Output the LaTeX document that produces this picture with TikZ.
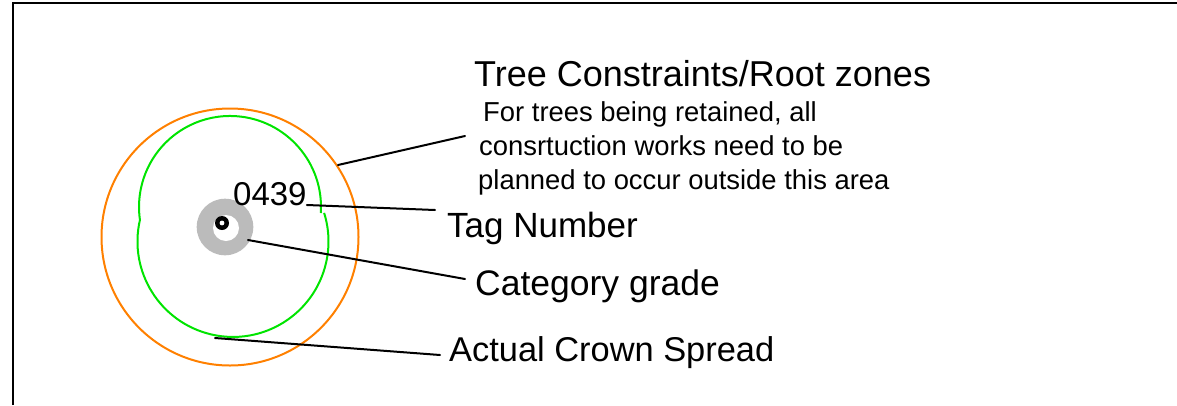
\documentclass[tikz,border=0pt]{standalone}
\usepackage{fontspec}
\setmainfont{Liberation Sans}
\definecolor{rootorange}{RGB}{255,128,0}
\definecolor{crowngreen}{RGB}{0,228,0}
\definecolor{gradegrey}{RGB}{187,187,187}
\tikzset{
  lbl/.style={anchor=base west,inner sep=0pt,font=\fontsize{35}{40}\selectfont},
  note/.style={anchor=base west,inner sep=0pt,font=\fontsize{27.4}{34}\selectfont},
  leader/.style={line width=2pt,line cap=round},
}
\begin{document}
\begin{tikzpicture}[x=1pt,y=-1pt]
        \useasboundingbox (0,0) rectangle (1177,405);
        \draw[line width=2pt] (13,405) -- (13,3) -- (1177,3);
        % root zone, crown spread and grade
        \draw[rootorange,line width=2pt] (230,237) circle[radius=128.5];
        \draw[crowngreen,line width=2pt] (320.8,213) arc[start angle=3.8,end angle=-188.2,radius=91]
          arc[start angle=193,end angle=-17.4,radius=95.5];
        \fill[gradegrey] (225,227) circle[radius=28.3];
        \fill[white] (226,228) circle[radius=13];
        \fill (222,223) circle[radius=7];
        \fill[white] (222,223) circle[radius=2.4];
        % labels
        \draw (233,205) node[lbl,font=\fontsize{33}{40}\selectfont](num){0439};
        \draw (474,86) node[lbl,font=\fontsize{36}{40}\selectfont](zones){Tree Constraints/Root zones};
        \draw (483,121) node[note](note1){For trees being retained, all};
        \draw (479,155) node[note](note2){consrtuction works need to be};
        \draw (478,189) node[note](note3){planned to occur outside this area};
        \draw (447,237) node[lbl](tag){Tag Number};
        \draw (475,295) node[lbl,font=\fontsize{35.5}{40}\selectfont](grade){Category grade};
        \draw (449,361) node[lbl,font=\fontsize{34.4}{40}\selectfont](crown){Actual Crown Spread};
        % leader ends
        \coordinate (zoneEdge) at (338,165);
        \coordinate (zoneEnd) at (465,136);
        \coordinate (tagEnd) at (435,210);
        \coordinate (gradeEdge) at (248,240);
        \coordinate (gradeEnd) at (465,279);
        \coordinate (crownEdge) at (215,338);
        \coordinate (crownEnd) at (440,355);
        \draw[leader]
          (zoneEdge) -- (zoneEnd)
          (num.base east) -- (tagEnd)
          (gradeEdge) -- (gradeEnd)
          (crownEdge) -- (crownEnd)
        ;
      \end{tikzpicture}
\end{document}
